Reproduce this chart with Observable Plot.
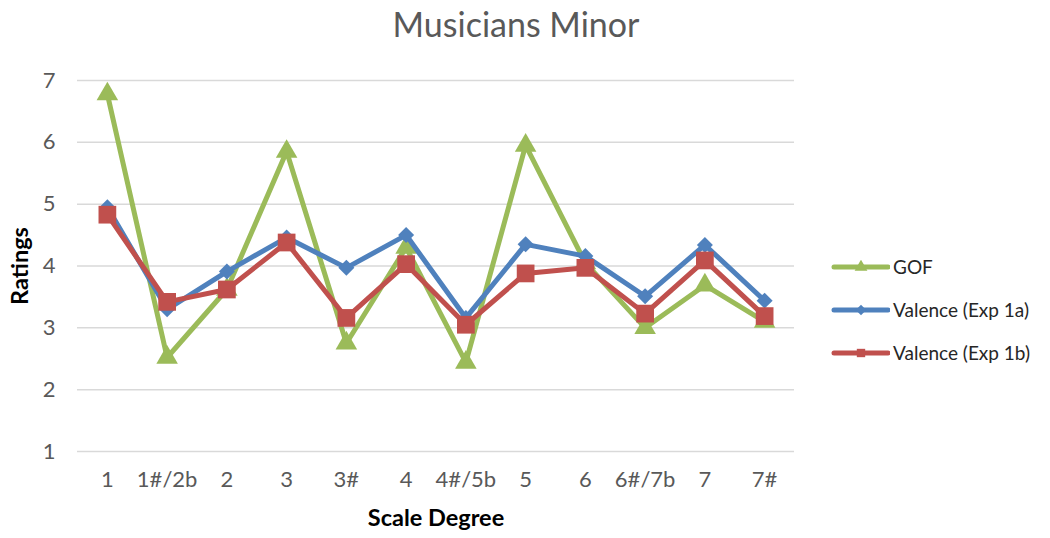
<!DOCTYPE html>
<html>
<head>
<meta charset="utf-8">
<script src="https://cdn.jsdelivr.net/npm/d3@7"></script>
<script src="https://cdn.jsdelivr.net/npm/@observablehq/plot@0.6"></script>
<style>
  html, body { margin: 0; padding: 0; background: #fff; }
  #wrap { position: relative; width: 1050px; height: 538px; font-family: Lato, "Open Sans", sans-serif; }
  #title { position: absolute; left: 0; width: 1032px; top: 3px; text-align: center; font-size: 34px; color: #595959; }
  #legend { position: absolute; left: 830px; top: 245px; font-size: 19px; color: #262626; }
  .row { display: flex; align-items: center; height: 43px; }
  .row svg { margin-right: 3px; }
</style>
</head>
<body>
<div id="wrap">
  <div id="chart"></div>
  <div id="title">Musicians Minor</div>
  <div id="legend"></div>
</div>
<script>
const degrees = ["1", "1#/2b", "2", "3", "3#", "4", "4#/5b", "5", "6", "6#/7b", "7", "7#"];
const gof   = [6.78, 2.52, 3.62, 5.85, 2.75, 4.30, 2.44, 5.95, 4.05, 3.00, 3.69, 3.10];
const val1a = [4.95, 3.30, 3.91, 4.46, 3.97, 4.50, 3.16, 4.35, 4.16, 3.51, 4.34, 3.44];
const val1b = [4.83, 3.42, 3.62, 4.38, 3.16, 4.03, 3.05, 3.88, 3.97, 3.23, 4.09, 3.19];
const seriesNames = ["GOF", "Valence (Exp 1a)", "Valence (Exp 1b)"];
const seriesColors = ["#9BBB59", "#4F81BD", "#C0504D"];
const seriesSymbols = ["triangle", "diamond2", "square"];
const yTicks = [1, 2, 3, 4, 5, 6, 7];

const values = [gof, val1a, val1b];
const data = [];
seriesNames.forEach((s, i) => degrees.forEach((d, j) => data.push({series: s, degree: d, value: values[i][j]})));

const marks = [
  Plot.gridY(yTicks, {stroke: "#d9d9d9", strokeOpacity: 1, strokeWidth: 1.5}),
  Plot.axisY(yTicks, {tickSize: 0, tickPadding: 22, fontSize: 22, fill: "#595959", tickFormat: d => String(d), label: "Ratings", labelAnchor: "center", labelOffset: 66, labelArrow: "none"}),
  Plot.axisX({tickSize: 0, tickPadding: 20, fontSize: 22, fill: "#595959", label: "Scale Degree", labelAnchor: "center", labelOffset: 74, labelArrow: "none"})
];
const radii = [8, 7.2, 10];
seriesNames.forEach((s, i) => {
  const sub = data.filter(d => d.series === s);
  marks.push(Plot.line(sub, {x: "degree", y: "value", stroke: seriesColors[i], strokeWidth: 5, strokeLinejoin: "miter"}));
  marks.push(Plot.dot(sub, {x: "degree", y: "value", symbol: () => seriesSymbols[i], fill: seriesColors[i], stroke: "none", r: radii[i]}));
});

const chart = Plot.plot({
  width: 1050,
  height: 538,
  marginLeft: 77,
  marginRight: 256,
  marginTop: 80,
  marginBottom: 87,
  style: {fontFamily: "Lato, 'Open Sans', sans-serif", background: "#fff"},
  x: {type: "point", domain: degrees, padding: 0.5, round: false, label: null},
  y: {domain: [1, 7], label: null},
  marks
});
document.getElementById("chart").appendChild(chart);

chart.querySelectorAll("g[aria-label='x-axis label'] text, g[aria-label='y-axis label'] text").forEach(t => {
  t.setAttribute("font-weight", "bold");
  t.setAttribute("font-size", "23.5");
  t.setAttribute("fill", "#000");
});

const symMap = {triangle: "symbolTriangle", diamond2: "symbolDiamond2", square: "symbolSquare"};
const legend = document.getElementById("legend");
seriesNames.forEach((s, i) => {
  const row = document.createElement("div");
  row.className = "row";
  const path = d3.symbol(d3[symMap[seriesSymbols[i]]], 70)();
  row.innerHTML = `<svg width="60" height="14"><line x1="4" x2="58" y1="7" y2="7" stroke="${seriesColors[i]}" stroke-width="5" stroke-linecap="round"/><path transform="translate(31,7)" d="${path}" fill="${seriesColors[i]}"/></svg><span>${s}</span>`;
  legend.appendChild(row);
});
</script>
</body>
</html>
